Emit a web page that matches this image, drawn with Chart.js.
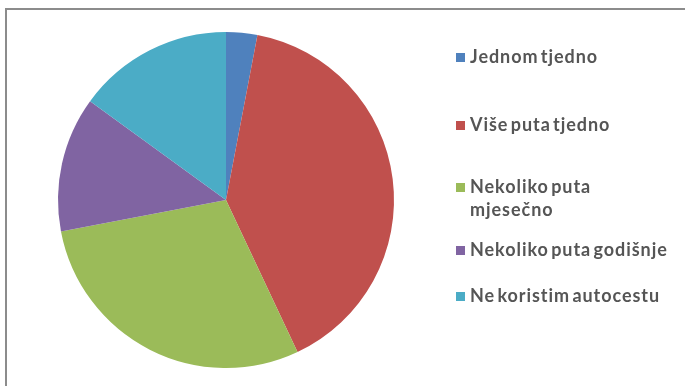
<!DOCTYPE html>
<html>
<head>
<meta charset="utf-8">
<script src="https://cdn.jsdelivr.net/npm/chart.js@4/dist/chart.umd.min.js"></script>
<style>
  html, body { margin: 0; padding: 0; background: #fff; }
  #wrap { position: relative; width: 685px; height: 386px; overflow: hidden; }
  #frame { position: absolute; left: 5px; top: 8px; width: 690px; height: 400px;
           border: 2px solid #8c8c8c; border-right-color: #e4e4e4; box-sizing: border-box; }
  #pie { position: absolute; left: 0; top: 0; }
  #legend { position: absolute; left: 0; top: 0; font-family: Lato, "Liberation Sans", sans-serif;
            font-size: 18px; font-weight: bold; letter-spacing: 0.95px; word-spacing: -3px; color: #555; }
  .item { position: absolute; left: 456px; white-space: nowrap; line-height: 23px; }
  .box { position: absolute; left: 0; top: 8px; width: 9px; height: 9px; }
  .txt { position: absolute; left: 14px; top: 0; }
</style>
</head>
<body>
<div id="wrap">
  <div id="frame"></div>
  <canvas id="pie" width="685" height="386"></canvas>
  <div id="legend"></div>
</div>
<script>
// how often people use the motorway
const labels = ['Jednom tjedno', 'Više puta tjedno', ['Nekoliko puta', 'mjesečno'], 'Nekoliko puta godišnje', 'Ne koristim autocestu'];
const values = [3, 40, 29, 13, 15];
const colors = ['#4f81bd', '#c0504d', '#9bbb59', '#8064a2', '#4bacc6'];

// vertical spot of each legend entry
const legendTop = [45, 113, 175, 238, 284];

const chart = new Chart(document.getElementById('pie'), {
  type: 'pie',
  data: {
    labels: labels,
    datasets: [{
      data: values,
      backgroundColor: colors,
      borderWidth: 0
    }]
  },
  options: {
    responsive: false,
    animation: false,
    layout: { padding: { left: 58, right: 291, top: 32, bottom: 18 } },
    plugins: {
      legend: { display: false },
      tooltip: { enabled: false }
    }
  }
});

// legend on the right, built from the chart's own labels and colours
const legend = document.getElementById('legend');
chart.data.labels.forEach((lab, i) => {
  const item = document.createElement('div');
  item.className = 'item';
  item.style.top = legendTop[i] + 'px';
  const box = document.createElement('span');
  box.className = 'box';
  box.style.background = chart.data.datasets[0].backgroundColor[i];
  const txt = document.createElement('span');
  txt.className = 'txt';
  txt.innerHTML = (Array.isArray(lab) ? lab : [lab]).join('<br>');
  item.appendChild(box);
  item.appendChild(txt);
  legend.appendChild(item);
});
</script>
</body>
</html>
